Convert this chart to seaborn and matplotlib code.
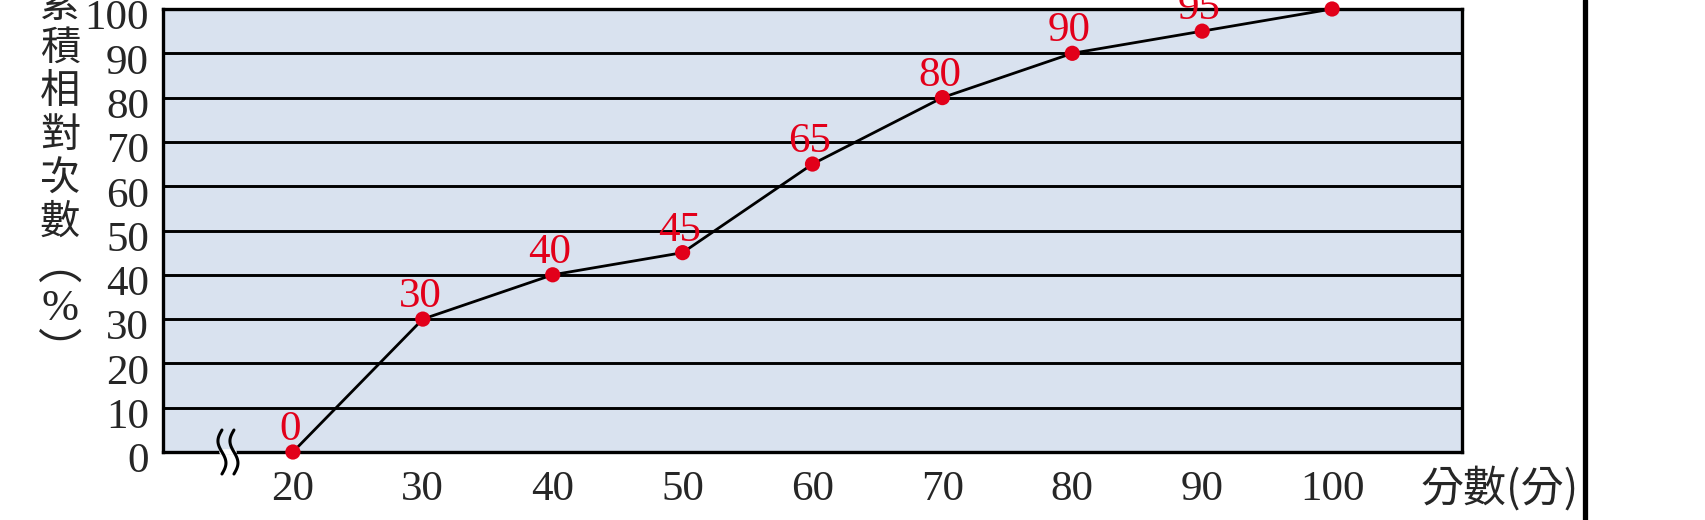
import numpy as np
import matplotlib
matplotlib.use("Agg")
import matplotlib.pyplot as plt
import matplotlib.transforms as mtransforms
import seaborn as sns
import pandas as pd
from matplotlib.lines import Line2D

# Data
scores = [20, 30, 40, 50, 60, 70, 80, 90, 100]
cum_pct = [0, 30, 40, 45, 65, 80, 90, 95, 100]
point_labels = ["0", "30", "40", "45", "65", "80", "90", "95", ""]
x_ticks = [20, 30, 40, 50, 60, 70, 80, 90, 100]
y_ticks = [0, 10, 20, 30, 40, 50, 60, 70, 80, 90, 100]
ylabel_chars = ["累", "積", "相", "對", "次", "數", "︵", "%", "︶"]
xlabel_text = "分數(分)"

df = pd.DataFrame({"score": scores, "pct": cum_pct})

sns.set_style("white")
plt.rcParams['font.family'] = ['Liberation Serif', 'Noto Sans CJK TC', 'DejaVu Sans']

bg = "#D9E2EF"
red = "#E2001A"
W, H = 1706, 520
fs = 31

fig = plt.figure(figsize=(W / 100, H / 100), dpi=100)
ax = fig.add_axes([163 / W, 1 - 452 / H, (1462 - 163) / W, (452 - 9) / H])
ax.set_facecolor(bg)

# horizontal grid lines
for yv in y_ticks[1:-1]:
    ax.axhline(yv, color="black", lw=2.1, zorder=1)

sns.lineplot(data=df, x="score", y="pct", color="black", lw=2.0, ax=ax, zorder=3)
sns.scatterplot(data=df, x="score", y="pct", color=red, s=120, edgecolor="none",
                ax=ax, zorder=4, clip_on=False)

for xv, yv, lab in zip(scores, cum_pct, point_labels):
    if lab:
        ax.annotate(lab, (xv, yv), xytext=(-2, 8.5), textcoords="offset points",
                    ha="center", va="baseline", color=red, fontsize=fs,
                    annotation_clip=False)

ax.set_xlim(10, 110)
ax.set_ylim(0, 100)
ax.set_xticks(x_ticks)
ax.set_yticks(y_ticks)
ax.tick_params(axis="x", direction="in", length=8, width=2, pad=13, labelsize=fs)
ax.tick_params(axis="y", length=0, pad=10, labelsize=fs)
ax.set_xlabel("")
ax.set_ylabel("")
for sp in ax.spines.values():
    sp.set_linewidth(2.4)
    sp.set_color("black")

# y tick labels sit a little below their lines in the original
shift = mtransforms.ScaledTranslation(0, -4 / 72, fig.dpi_scale_trans)
for lab in ax.get_yticklabels():
    lab.set_transform(lab.get_transform() + shift)

# axis break mark near the origin
cx, cy = ax.transData.transform((15, 0))
t = np.linspace(-1, 1, 60)
gap = Line2D([cx - 6, cx + 6], [cy, cy], color="white", lw=4, transform=None, zorder=5)
fig.add_artist(gap)
for dx in (-6, 6):
    xs = cx + dx - 4 * np.sin(np.pi * t)
    ys = cy + 22 * t
    fig.add_artist(Line2D(xs, ys, color="black", lw=2.2, transform=None, zorder=6))

# vertical y-axis title, one character per row
for i, ch in enumerate(ylabel_chars):
    fam = ['Liberation Serif'] if ch == "%" else ['Noto Sans CJK TC', 'DejaVu Sans']
    size = 32 if ch in "︵%︶" else 29
    fig.text(60 / W, 1 - (5 + 43.5 * i) / H, ch, ha="center", va="center",
             fontsize=size, family=fam)

fig.text(1500 / W, 1 - 489 / H, xlabel_text, ha="center", va="center",
         fontsize=fs, family=['Noto Sans CJK TC', 'DejaVu Sans'])

# thick vertical rule at the right
fig.add_artist(Line2D([1585 / W, 1585 / W], [0, 1], color="black", lw=3.8,
                      transform=fig.transFigure))

fig.savefig("out.png", dpi=100)
